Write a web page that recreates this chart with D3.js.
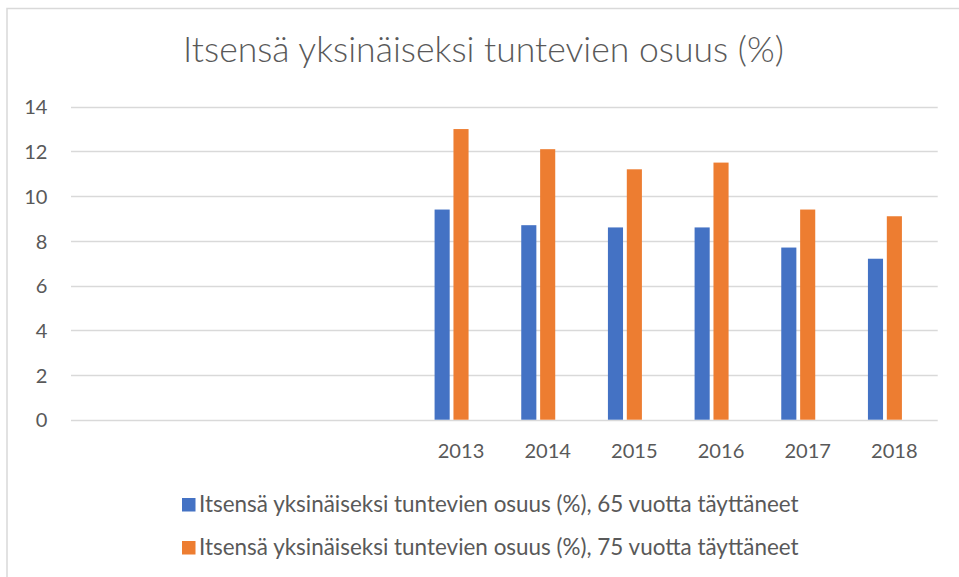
<!DOCTYPE html>
<html>
<head>
<meta charset="utf-8">
<script src="https://cdn.jsdelivr.net/npm/d3@7"></script>
<style>
body { margin: 0; background: #fff; }
text { font-family: Lato, "Open Sans", sans-serif; fill: #595959; }
</style>
</head>
<body>
<script>
// data (first four categories are empty)
var categories = ["", "", "", "", "2013", "2014", "2015", "2016", "2017", "2018"];
var series65 = [null, null, null, null, 9.4, 8.7, 8.6, 8.6, 7.7, 7.2];
var series75 = [null, null, null, null, 13.0, 12.1, 11.2, 11.5, 9.4, 9.1];
var seriesNames = [
  "Itsensä yksinäiseksi tuntevien osuus (%), 65 vuotta täyttäneet",
  "Itsensä yksinäiseksi tuntevien osuus (%), 75 vuotta täyttäneet"
];
var seriesColors = ["#4472C4", "#ED7D31"];
var yTicks = [0, 2, 4, 6, 8, 10, 12, 14];
var title = "Itsensä yksinäiseksi tuntevien osuus (%)";

var width = 959, height = 577;
var svg = d3.select("body").append("svg")
  .attr("width", width)
  .attr("height", height);

// chart border (only left and top visible)
svg.append("rect")
  .attr("x", 7).attr("y", 8.5)
  .attr("width", 1000).attr("height", 1000)
  .attr("fill", "none")
  .attr("stroke", "#d9d9d9")
  .attr("stroke-width", 1.5);

// scales
var x0 = d3.scaleBand()
  .domain(d3.range(categories.length))
  .range([71, 937.7])
  .paddingInner(0.39)
  .paddingOuter(0.195);
// three slots per category, the third one stays empty
var x1 = d3.scaleBand()
  .domain([0, 1, 2])
  .range([0, x0.bandwidth()])
  .paddingInner(0.2);
var y = d3.scaleLinear()
  .domain([0, 14])
  .range([419.7, 106.7]);

// make a text fit a given width
function fit(sel, w) {
  var len = sel.node().getComputedTextLength();
  var fs = parseFloat(sel.attr("font-size"));
  sel.attr("font-size", fs * w / len);
  return fs * w / len;
}

// title
var t = svg.append("text")
  .attr("x", 483.5).attr("y", 62)
  .attr("text-anchor", "middle")
  .attr("font-size", 28)
  .attr("font-weight", 300)
  .text(title);
fit(t, 601);

// gridlines
svg.append("g").selectAll("line")
  .data(yTicks)
  .enter().append("line")
  .attr("x1", 71).attr("x2", 937.7)
  .attr("y1", function(d) { return Math.round(y(d)) + 0.5; })
  .attr("y2", function(d) { return Math.round(y(d)) + 0.5; })
  .attr("stroke", "#d9d9d9")
  .attr("stroke-width", 1.3);

// tick label font size from the width of "2013"
var probe = svg.append("text").attr("font-size", 20).text("2013");
var tickSize = fit(probe, 46.6);
probe.remove();

// y axis (labels only)
var yAxis = svg.append("g")
  .attr("transform", "translate(47.5,0)")
  .call(d3.axisLeft(y).tickValues(yTicks).tickSize(0).tickPadding(0));
yAxis.select(".domain").remove();
yAxis.selectAll("text")
  .attr("font-size", tickSize)
  .attr("dy", "0.36em");

// x axis (labels only)
var xAxis = svg.append("g")
  .attr("transform", "translate(0,419.7)")
  .call(d3.axisBottom(x0).tickSize(0).tickPadding(0)
    .tickFormat(function(i) { return categories[i]; }));
xAxis.select(".domain").remove();
xAxis.selectAll("text")
  .attr("font-size", tickSize)
  .attr("y", 38.5)
  .attr("dy", null);
xAxis.attr("font-family", null).attr("font-size", null);
yAxis.attr("font-family", null).attr("font-size", null);

// bars
var rows = categories.map(function(c, i) {
  return { i: i, values: [series65[i], series75[i]] };
});
var groups = svg.append("g").selectAll("g")
  .data(rows)
  .enter().append("g")
  .attr("transform", function(d) { return "translate(" + x0(d.i) + ",0)"; });
groups.selectAll("rect")
  .data(function(d) {
    return d.values.map(function(v, k) { return { k: k, v: v }; })
      .filter(function(e) { return e.v != null; });
  })
  .enter().append("rect")
  .attr("x", function(d) { return x1(d.k); })
  .attr("width", x1.bandwidth())
  .attr("y", function(d) { return y(d.v); })
  .attr("height", function(d) { return y(0) - y(d.v); })
  .attr("fill", function(d) { return seriesColors[d.k]; });

// legend
var legend = svg.append("g").selectAll("g")
  .data(seriesNames)
  .enter().append("g")
  .attr("transform", function(d, k) { return "translate(182," + (498 + k * 43) + ")"; });
legend.append("rect")
  .attr("width", 13.5).attr("height", 13.5)
  .attr("fill", function(d, k) { return seriesColors[k]; });
legend.append("text")
  .attr("x", 17).attr("y", 14)
  .attr("font-size", 20)
  .text(function(d) { return d; })
  .each(function() { fit(d3.select(this), 600); });
</script>
</body>
</html>
